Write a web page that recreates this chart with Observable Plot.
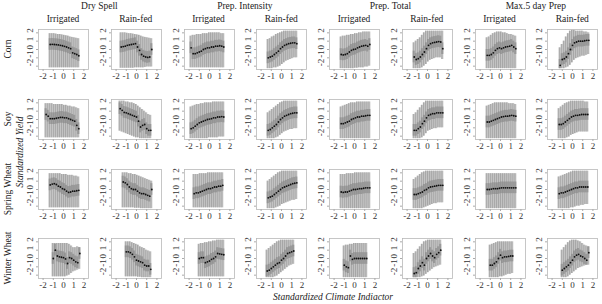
<!DOCTYPE html>
<html><head><meta charset="utf-8">
<script src="https://cdn.jsdelivr.net/npm/d3@7"></script>
<script src="https://cdn.jsdelivr.net/npm/@observablehq/plot@0.6"></script>
<style>
html,body{margin:0;padding:0;background:#fff;}
#wrap{position:relative;width:602px;height:304px;overflow:hidden;background:#fff;font-family:"Liberation Serif","Times New Roman",serif;color:#222;}
#wrap svg, #wrap svg text{font-family:"Liberation Serif","Times New Roman",serif !important;}
.lab{position:absolute;white-space:nowrap;transform:translate(-50%,-50%);line-height:1;font-family:"Liberation Serif","Times New Roman",serif;}
.rot{transform:translate(-50%,-50%) rotate(-90deg);}
.pan{position:absolute;}
</style></head>
<body><div id="wrap"></div>
<script>
// ---------- data ----------
const crops = ["Corn", "Soy", "Spring Wheat", "Winter Wheat"];
const indicators = ["Dry Spell", "Prep. Intensity", "Prep. Total", "Max.5 day Prep"];
const regimes = ["Irrigated", "Rain-fed"];
const xTicks = [-2, -1, 0, 1, 2];
const yTicks = [-2, -1, 0, 1, 2];
const binStep = 0.2;      // width of the climate-index bins
const boxHalf = 0.7;

// first bin centre per panel (8 columns per crop)
const cornStart   = [-1.3, -1.5, -1.8, -1.3, -1.3, -1.3, -1.3, -1.2];
const soyStart    = [-1.7, -1.6, -1.8, -1.3, -1.3, -1.3, -1.3, -1.3];
const springStart = [-1.3, -1.3, -1.5, -1.3, -1.3, -1.3, -1.3, -1.3];
const winterStart = [-1.0, -1.0, -1.0, -1.4, -1.0, -1.3, -1.0, -1.0];

const cornMed = [
 [0.6,0.62,0.6,0.58,0.55,0.5,0.45,0.38,0.3,0.2,0.1,-0.4,-0.5,-0.6,-0.75],
 [0.3,0.35,0.4,0.5,0.55,0.6,0.65,0.7,0.3,-0.1,-0.6,-0.8,-0.9,-0.95,-0.9,0.0],
 [0.2,-0.5,-0.5,-0.4,-0.3,-0.2,0.0,0.1,0.2,0.2,0.3,0.3,0.4,0.4,0.45,0.4,0.3],
 [-1.0,-0.9,-0.8,-0.6,-0.4,-0.2,0.1,0.3,0.5,0.6,0.7,0.75,0.8,0.8,0.7],
 [-0.6,-0.65,-0.6,-0.5,-0.3,-0.1,0.0,0.05,0.2,0.3,0.4,0.45,0.5,0.4,0.6],
 [-0.9,-1.2,-1.1,-0.9,-0.6,-0.3,0.1,0.5,0.7,0.8,0.85,0.9,0.95,0.9,0.1],
 [-0.7,-0.7,-0.6,-0.4,-0.1,0.1,0.2,0.1,0.2,0.3,0.35,0.4,0.5,0.3,0.1],
 [-1.9,-1.2,-1.1,-0.9,-0.5,0.0,0.5,0.8,0.9,1.0,1.0,1.0,1.05,1.1,1.1]
];
const cornHi = [
 [1.9,1.9,1.9,1.85,1.8,1.8,1.75,1.7,1.65,1.6,1.5,1.45,1.4,1.35,1.3],
 [2.0,2.0,2.0,1.95,1.9,1.9,1.85,1.8,1.75,1.7,1.6,1.5,1.45,1.4,1.35,1.3],
 [1.6,1.7,1.7,1.8,1.8,1.8,1.9,1.9,1.9,2.0,2.0,2.0,2.0,2.0,2.0,1.9,1.9],
 [1.2,1.3,1.5,1.6,1.8,1.9,2.0,2.1,2.2,2.2,2.2,2.2,2.2,2.2,2.2],
 [1.5,1.6,1.6,1.7,1.7,1.8,1.8,1.9,1.9,2.0,2.0,2.1,2.1,2.1,2.1],
 [0.8,1.0,1.2,1.4,1.7,2.0,2.2,2.2,2.2,2.2,2.2,2.2,2.2,2.2,2.2],
 [1.4,1.5,1.7,1.9,2.0,2.1,2.1,2.1,2.0,2.0,1.9,1.8,1.8,1.7,1.6],
 [0.2,0.6,1.0,1.5,1.9,2.2,2.3,2.3,2.2,2.2,2.2,2.2,2.1,2.1,2.0]
];
const cornLo = [
 [-2.2,-2.2,-2.2,-2.2,-2.2,-2.2,-2.2,-2.2,-2.2,-2.2,-2.2,-2.2,-2.2,-2.2,-2.2],
 [-2.25,-2.25,-2.25,-2.25,-2.25,-2.25,-2.25,-2.2,-2.2,-2.2,-2.2,-2.2,-2.15,-2.1,-2.1,-2.1],
 [-2.2,-2.2,-2.2,-2.2,-2.2,-2.2,-2.2,-2.2,-2.2,-2.2,-2.2,-2.2,-2.2,-2.2,-2.2,-2.2,-2.2],
 [-2.3,-2.3,-2.3,-2.2,-2.2,-2.1,-2.0,-1.8,-1.6,-1.4,-1.3,-1.2,-1.1,-1.0,-1.0],
 [-2.3,-2.3,-2.3,-2.3,-2.3,-2.3,-2.3,-2.25,-2.25,-2.2,-2.2,-2.2,-2.1,-2.1,-2.0],
 [-2.3,-2.3,-2.3,-2.3,-2.2,-2.0,-1.8,-1.5,-1.3,-1.2,-1.1,-1.0,-1.0,-1.0,-1.2],
 [-2.3,-2.3,-2.3,-2.3,-2.3,-2.3,-2.3,-2.3,-2.3,-2.3,-2.3,-2.3,-2.3,-2.3,-2.3],
 [-2.3,-2.3,-2.3,-2.2,-2.1,-1.9,-1.6,-1.3,-1.1,-1.0,-0.9,-0.8,-0.8,-0.7,-0.6]
];

const soyMed = [
 [0.6,0.4,0.1,0.1,0.1,0.15,0.2,0.25,0.25,0.2,0.2,0.1,0.0,-0.1,-0.2,-0.7,-1.1],
 [1.3,1.1,0.85,0.8,0.7,0.6,0.5,0.4,0.3,-0.2,-0.9,-0.7,-0.6,-1.1,-1.3,-1.3],
 [-1.1,-1.0,-0.8,-0.6,-0.4,-0.3,-0.2,-0.1,0.0,0.05,0.1,0.2,0.2,0.3,0.3,0.35,0.3],
 [-1.3,-1.2,-1.0,-0.8,-0.6,-0.3,0.0,0.2,0.4,0.5,0.6,0.7,0.75,0.8,0.8],
 [-0.5,-0.5,-0.4,-0.3,-0.2,0.0,0.1,0.2,0.3,0.3,0.4,0.4,0.45,0.5,0.5],
 [-1.3,-1.3,-1.1,-0.9,-0.5,-0.2,0.2,0.5,0.6,0.7,0.7,0.8,0.8,0.8,0.8],
 [-0.3,-0.3,-0.2,-0.1,0.0,0.1,0.2,0.3,0.35,0.4,0.4,0.45,0.5,0.45,0.4],
 [-0.6,-0.6,-0.5,-0.3,-0.1,0.1,0.3,0.4,0.5,0.5,0.55,0.6,0.6,0.6,0.6]
];
const soyHi = [
 [1.9,1.9,1.9,1.9,1.8,1.8,1.8,1.8,1.8,1.7,1.7,1.6,1.6,1.5,1.5,1.4,1.3],
 [2.2,2.2,2.2,2.1,2.1,2.0,2.0,1.9,1.8,1.6,1.4,1.2,1.0,0.8,0.6,0.5],
 [1.5,1.6,1.7,1.8,1.8,1.9,1.9,2.0,2.0,2.0,2.0,2.1,2.1,2.1,2.1,2.1,2.1],
 [0.8,1.0,1.2,1.4,1.6,1.8,2.0,2.1,2.2,2.2,2.2,2.2,2.2,2.2,2.2],
 [1.5,1.6,1.7,1.8,1.9,2.0,2.0,2.0,2.1,2.1,2.1,2.1,2.1,2.1,2.1],
 [0.6,0.8,1.1,1.4,1.7,2.0,2.2,2.2,2.2,2.2,2.2,2.2,2.2,2.2,2.2],
 [1.6,1.7,1.8,1.9,2.0,2.0,2.0,2.0,2.0,2.0,2.0,1.9,1.9,1.9,1.8],
 [1.3,1.5,1.7,1.9,2.0,2.1,2.2,2.2,2.2,2.2,2.2,2.2,2.2,2.1,2.1]
];
const soyLo = [
 [-2.2,-2.2,-2.2,-2.2,-2.2,-2.2,-2.2,-2.2,-2.2,-2.2,-2.2,-2.2,-2.2,-2.2,-2.2,-2.2,-2.2],
 [-1.4,-1.5,-1.6,-1.7,-1.8,-1.9,-2.0,-2.1,-2.2,-2.2,-2.3,-2.3,-2.3,-2.3,-2.3,-2.3],
 [-2.3,-2.3,-2.3,-2.3,-2.3,-2.3,-2.3,-2.3,-2.3,-2.2,-2.2,-2.2,-2.2,-2.2,-2.1,-2.1,-2.1],
 [-2.3,-2.3,-2.3,-2.3,-2.2,-2.1,-1.9,-1.7,-1.5,-1.4,-1.3,-1.2,-1.2,-1.1,-1.1],
 [-2.3,-2.3,-2.3,-2.3,-2.3,-2.3,-2.3,-2.3,-2.3,-2.3,-2.3,-2.3,-2.3,-2.3,-2.3],
 [-2.3,-2.3,-2.3,-2.3,-2.2,-2.0,-1.7,-1.4,-1.3,-1.2,-1.1,-1.1,-1.0,-1.0,-1.0],
 [-2.3,-2.3,-2.3,-2.3,-2.3,-2.3,-2.3,-2.3,-2.3,-2.3,-2.3,-2.3,-2.3,-2.3,-2.3],
 [-2.3,-2.3,-2.3,-2.3,-2.2,-2.1,-1.9,-1.8,-1.7,-1.6,-1.5,-1.5,-1.5,-1.5,-1.5]
];

const springMed = [
 [0.55,0.65,0.7,0.6,0.4,0.3,0.1,0.0,-0.2,-0.35,-0.3,-0.2,-0.2,-0.15,-0.1],
 [0.9,0.8,0.6,0.3,0.1,0.0,0.0,-0.2,-0.4,-0.5,-0.5,-0.6,-0.7,-0.8,0.0],
 [-0.5,-0.4,-0.4,-0.3,-0.2,-0.1,0.0,0.1,0.1,0.2,0.3,0.3,0.4,0.4,0.5],
 [-1.0,-0.9,-0.8,-0.6,-0.4,-0.2,0.0,0.2,0.3,0.4,0.5,0.6,0.7,0.75,0.8],
 [-0.3,-0.35,-0.3,-0.3,-0.2,-0.1,0.0,0.0,0.05,0.1,0.1,0.15,0.2,0.2,0.2],
 [-0.6,-0.6,-0.5,-0.4,-0.3,-0.1,0.0,0.2,0.3,0.35,0.4,0.45,0.5,0.5,0.5],
 [0.0,0.0,0.05,0.1,0.1,0.1,0.15,0.2,0.2,0.2,0.2,0.2,0.2,0.2,0.2],
 [-0.5,-0.4,-0.4,-0.3,-0.2,-0.1,0.0,0.1,0.2,0.2,0.3,0.3,0.3,0.3,0.3]
];
const springHi = [
 [1.9,1.9,1.9,1.9,1.9,1.9,1.8,1.8,1.8,1.7,1.7,1.7,1.6,1.6,1.5],
 [2.0,2.0,2.0,1.9,1.9,1.8,1.8,1.7,1.6,1.5,1.4,1.3,1.2,1.1,1.0],
 [1.8,1.8,1.8,1.9,1.9,1.9,1.9,2.0,2.0,2.0,2.0,2.0,2.0,2.0,2.0],
 [1.0,1.2,1.4,1.6,1.8,2.0,2.1,2.2,2.2,2.2,2.2,2.2,2.2,2.2,2.2],
 [1.8,1.8,1.8,1.9,1.9,1.9,1.9,2.0,2.0,2.0,2.0,2.0,2.0,2.0,2.0],
 [1.2,1.4,1.6,1.8,2.0,2.1,2.2,2.2,2.2,2.2,2.2,2.2,2.2,2.2,2.2],
 [1.9,1.9,1.9,1.9,1.9,1.9,1.9,1.9,1.9,1.9,1.9,1.9,1.9,1.9,1.9],
 [1.5,1.6,1.7,1.8,1.9,2.0,2.1,2.2,2.2,2.2,2.2,2.2,2.2,2.2,2.2]
];
const springLo = [
 [-2.2,-2.2,-2.2,-2.2,-2.2,-2.2,-2.2,-2.2,-2.2,-2.2,-2.2,-2.2,-2.2,-2.2,-2.2],
 [-2.2,-2.2,-2.2,-2.2,-2.2,-2.2,-2.25,-2.25,-2.25,-2.3,-2.3,-2.3,-2.3,-2.3,-2.3],
 [-2.2,-2.2,-2.2,-2.2,-2.2,-2.2,-2.2,-2.2,-2.2,-2.2,-2.2,-2.2,-2.2,-2.2,-2.2],
 [-2.3,-2.3,-2.3,-2.3,-2.2,-2.1,-2.0,-1.8,-1.7,-1.6,-1.5,-1.4,-1.3,-1.3,-1.2],
 [-2.3,-2.3,-2.3,-2.3,-2.3,-2.3,-2.3,-2.3,-2.3,-2.3,-2.3,-2.3,-2.3,-2.3,-2.3],
 [-2.3,-2.3,-2.3,-2.3,-2.3,-2.2,-2.1,-2.0,-1.9,-1.8,-1.7,-1.7,-1.6,-1.6,-1.6],
 [-2.3,-2.3,-2.3,-2.3,-2.3,-2.3,-2.3,-2.3,-2.3,-2.3,-2.3,-2.3,-2.3,-2.3,-2.3],
 [-2.3,-2.3,-2.3,-2.3,-2.3,-2.3,-2.2,-2.2,-2.1,-2.0,-2.0,-1.9,-1.9,-1.8,-1.8]
];

const winterMed = [
 [0.0,1.0,0.3,0.2,0.15,0.1,-0.05,-0.6,0.1,0.0,-0.2,-0.4,-0.5,0.6],
 [0.8,0.8,0.7,0.5,0.2,-0.2,-0.3,-0.4,-0.5,-0.8,-0.9,-0.9,-1.3],
 [0.0,0.1,0.1,-0.5,-0.4,-0.3,-0.1,0.0,0.2,0.6,0.55,0.5,0.45],
 [-1.5,-1.4,-1.2,-1.0,-0.8,-0.6,-0.5,-0.2,0.0,0.3,0.6,0.7,0.8,0.9],
 [-0.8,-1.0,-1.1,0.3,-0.1,0.0,0.0,0.0,0.0,0.0,0.0,0.0],
 [-1.8,-1.7,-1.2,-0.9,-0.5,-0.8,0.0,0.3,0.6,0.3,0.1,0.5,0.7,1.0],
 [-0.8,-0.8,-0.6,-0.4,0.0,0.4,0.1,0.2,0.2,0.25,0.3,0.3],
 [-1.4,-1.2,-1.0,-0.8,-0.5,-0.2,0.2,0.4,0.5,0.3,0.2,0.0,-0.2,0.7]
];
const winterHi = [
 [1.8,1.8,1.8,1.8,1.8,1.8,1.8,1.8,1.7,1.5,1.3,1.3,1.4,1.3],
 [2.0,2.0,2.0,1.9,1.8,1.7,1.6,1.4,1.3,1.2,1.0,0.9,0.8],
 [1.7,1.8,1.8,1.9,1.9,2.0,2.0,2.1,2.1,2.2,2.2,2.2,2.2],
 [1.0,1.2,1.4,1.6,1.8,2.0,2.1,2.2,2.2,2.2,2.2,2.2,2.2,2.2],
 [1.5,1.6,1.6,1.7,1.7,1.8,1.8,1.8,1.8,1.8,1.8,1.8],
 [0.6,0.8,1.1,1.4,1.7,2.0,2.1,2.2,2.2,2.2,2.2,2.2,2.2,2.2],
 [1.6,1.7,1.8,1.9,2.0,2.0,2.0,2.0,2.0,2.0,2.0,2.0],
 [1.0,1.3,1.6,1.9,2.1,2.2,2.2,2.2,2.1,2.0,1.8,1.6,1.5,1.4]
];
const winterLo = [
 [-2.2,-2.2,-2.2,-2.2,-2.2,-2.2,-2.2,-2.1,-2.0,-1.8,-1.6,-1.5,-1.4,-1.3],
 [-2.2,-2.2,-2.2,-2.2,-2.2,-2.2,-2.25,-2.25,-2.3,-2.3,-2.3,-2.3,-2.3],
 [-2.2,-2.2,-2.2,-2.2,-2.2,-2.2,-2.2,-2.2,-2.2,-2.2,-2.2,-2.2,-2.2],
 [-2.3,-2.3,-2.3,-2.3,-2.2,-2.1,-1.9,-1.7,-1.5,-1.3,-1.1,-0.9,-0.8,-0.7],
 [-2.3,-2.3,-2.3,-2.3,-2.3,-2.3,-2.3,-2.3,-2.3,-2.3,-2.3,-2.3],
 [-2.3,-2.3,-2.3,-2.3,-2.2,-2.1,-1.9,-1.7,-1.5,-1.3,-1.1,-1.0,-0.9,-0.8],
 [-2.3,-2.3,-2.3,-2.3,-2.3,-2.2,-2.2,-2.1,-2.0,-1.9,-1.9,-1.8],
 [-2.3,-2.3,-2.3,-2.2,-2.0,-1.8,-1.6,-1.4,-1.2,-1.1,-1.0,-0.9,-0.8,-0.8]
];

const starts = [cornStart, soyStart, springStart, winterStart];
const meds = [cornMed, soyMed, springMed, winterMed];
const his = [cornHi, soyHi, springHi, winterHi];
const los = [cornLo, soyLo, springLo, winterLo];

// ---------- layout ----------
const wrap = document.getElementById("wrap");
const PW = 50, PH = 40;
const colLeft = c => 38 + c * 72.75;
const rowTop = r => 29 + r * 69.8;
const ML = 16, MR = 3, MT = 3, MB = 16;
const FONT = "'Liberation Serif', 'Times New Roman', serif";

function label(text, x, y, opts = {}) {
  const s = document.createElement("div");
  s.className = "lab" + (opts.rot ? " rot" : "");
  s.textContent = text;
  s.style.left = x + "px";
  s.style.top = y + "px";
  s.style.fontSize = (opts.size || 9.5) + "px";
  if (opts.italic) s.style.fontStyle = "italic";
  wrap.appendChild(s);
}

for (let r = 0; r < 4; r++) {
  for (let c = 0; c < 8; c++) {
    const x0 = starts[r][c];
    const data = meds[r][c].map((m, i) => ({
      x: x0 + i * binStep, m, lo: los[r][c][i], hi: his[r][c][i]
    }));
    const half = binStep / 2;
    const svg = Plot.plot({
      width: PW + ML + MR, height: PH + MT + MB,
      marginLeft: ML, marginRight: MR, marginTop: MT, marginBottom: MB,
      x: {domain: [-2.45, 2.45]},
      y: {domain: [-2.4, 2.4]},
      style: {fontFamily: FONT, fontSize: "9px", color: "#333", background: "none", overflow: "visible"},
      marks: [
        Plot.rect(data, {x1: d => d.x - half, x2: d => d.x + half, y1: "lo", y2: "hi", fill: "#c2c2c2", inset: 0}),
        Plot.rect(data, {x1: d => d.x - half, x2: d => d.x + half,
          y1: d => Math.max(d.lo, d.m - boxHalf), y2: d => Math.min(d.hi, d.m + boxHalf),
          fill: "#9c9c9c", inset: 0}),
        Plot.ruleX(data, {x: d => d.x - half, y1: "lo", y2: "hi", stroke: "#8a8a8a", strokeWidth: 0.5}),
        Plot.dot(data, {x: "x", y: "m", r: 0.9, fill: "#111", stroke: "none"}),
        Plot.frame({stroke: "#b8b8b8", strokeWidth: 0.8}),
        Plot.axisX({ticks: xTicks, tickSize: 2, tickPadding: 1.5, tickFormat: d => String(d), label: null, stroke: "#aaa", fill: "#333"}),
        Plot.axisY({ticks: yTicks, tickSize: 2, tickFormat: () => "", label: null, stroke: "#aaa"}),
        Plot.text(yTicks, {y: d => d, text: d => String(d), rotate: -90, frameAnchor: "left", dx: -8, fill: "#333"})
      ]
    });
    const holder = document.createElement("div");
    holder.className = "pan";
    holder.style.left = (colLeft(c) - ML) + "px";
    holder.style.top = (rowTop(r) - MT) + "px";
    holder.appendChild(svg);
    wrap.appendChild(holder);
  }
}

// headers
indicators.forEach((t, g) => {
  const cx = (colLeft(2 * g) + colLeft(2 * g + 1) + PW) / 2;
  label(t, cx, 7, {size: 9.5});
  regimes.forEach((rg, k) => label(rg, colLeft(2 * g + k) + PW / 2, 19.5, {size: 9.5}));
});
crops.forEach((t, r) => label(t, 9, rowTop(r) + PH / 2, {rot: true, size: 9.5}));
label("Standardized Yield", 21, 152, {rot: true, italic: true, size: 9.5});
label("Standardized Climate Indiactor", 333, 298, {italic: true, size: 9.5});
</script>
</body></html>
